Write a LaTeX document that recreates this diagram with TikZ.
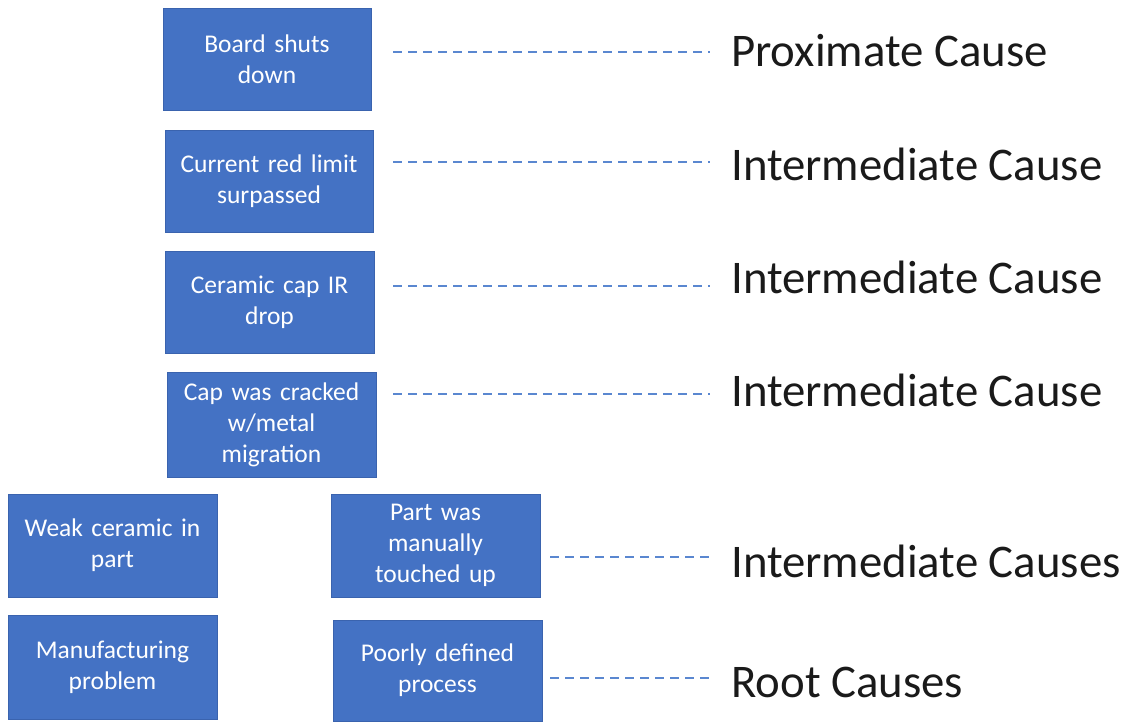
\documentclass[tikz,border=0pt]{standalone}
\usepackage{fontspec}
\setmainfont{Carlito}
\definecolor{boxblue}{HTML}{4472C4}
\definecolor{boxedge}{HTML}{3A63AE}
\definecolor{dashblue}{HTML}{5A87D0}
\definecolor{labelgray}{HTML}{1A1A1A}
\tikzset{
  causebox/.style={rectangle, fill=boxblue, draw=boxedge, line width=1pt,
    minimum width=209pt, minimum height=103pt, inner sep=2pt,
    text width=195pt, align=center, text=white,
    font=\fontsize{25.5pt}{31pt}\selectfont},
  levellabel/.style={anchor=base west, inner sep=0pt, text=labelgray,
    font=\fontsize{46.8pt}{56pt}\selectfont},
  levelline/.style={draw=dashblue, line width=1.8pt, dash pattern=on 9pt off 6pt}
}
\begin{document}
\begin{tikzpicture}[x=1pt,y=-1pt]
\useasboundingbox (0,0) rectangle (1130,721);
% boxes
\node[causebox, minimum width=208pt, minimum height=102pt] (b1) at (267,59) {Board shuts\\down};
\node[causebox, minimum width=208pt, minimum height=102pt] (b2) at (269,181) {Current red limit\\surpassed};
\node[causebox, minimum height=102pt] (b3) at (269.5,302) {Ceramic cap IR\\drop};
\node[causebox, minimum height=105pt] (b4) at (271.5,424.5) {Cap was cracked\\w/metal\\migration};
\node[causebox] (b5) at (112.5,545.5) {Weak ceramic in\\part};
\node[causebox] (b6) at (435.5,545.5) {Part was\\manually\\touched up};
\node[causebox, minimum height=104pt] (b7) at (112.5,667) {Manufacturing\\problem};
\node[causebox, minimum height=101pt] (b8) at (437.5,670.5) {Poorly defined\\process};
% labels
\node[levellabel] (l1) at (731,66) {Proximate Cause};
\node[levellabel] (l2) at (731,180) {Intermediate Cause};
\node[levellabel] (l3) at (731,293) {Intermediate Cause};
\node[levellabel] (l4) at (731,406) {Intermediate Cause};
\node[levellabel] (l5) at (731,577) {Intermediate Causes};
\node[levellabel] (l6) at (731,697) {Root Causes};
% dashed connectors
\coordinate (d1) at (393,52);
\coordinate (d2) at (393,162);
\coordinate (d3) at (393,286);
\coordinate (d4) at (393,394);
\coordinate (d5) at (550,557);
\coordinate (d6) at (550,678);
\foreach \i in {1,...,6}{
  \draw[levelline, shorten >=21pt] (d\i) -- (d\i -| l\i.west);
}
\end{tikzpicture}
\end{document}
